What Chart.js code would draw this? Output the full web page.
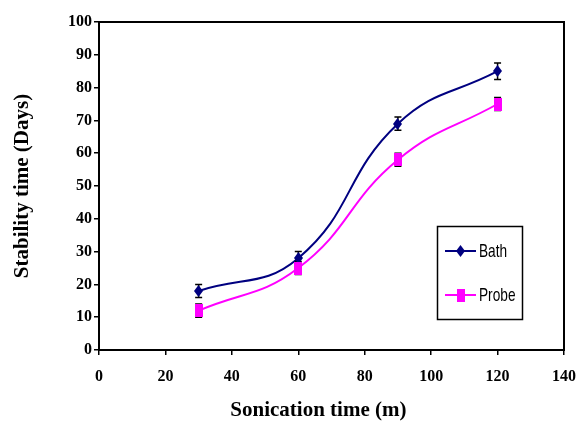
<!DOCTYPE html>
<html>
<head>
<meta charset="utf-8">
<script src="https://cdn.jsdelivr.net/npm/chart.js@4/dist/chart.umd.min.js"></script>
<style>
  html, body { margin: 0; padding: 0; background: #fff; }
  #wrap { width: 580px; height: 423px; position: relative; }
</style>
</head>
<body>
<div id="wrap"><canvas id="chart"></canvas></div>
<script>
// values
const minutes = [30, 60, 90, 120]
const bathDays = [18, 28, 69, 85]
const probeDays = [12, 25, 58, 75]
const bathErr = [2, 2, 2, 2.5]
const probeErr = [2, 2, 2, 2]
const seriesNames = ['Bath', 'Probe']

const NAVY = '#000080'
const MAGENTA = '#FF00FF'
const serif = '"Liberation Serif", "Times New Roman", serif'

// markers in the picture are a bit taller than wide
function makeMarker(kind, color) {
  const c = document.createElement('canvas')
  const ctx = c.getContext('2d')
  if (kind === 'diamond') {
    c.width = 9; c.height = 12
    ctx.fillStyle = color
    ctx.beginPath()
    ctx.moveTo(4.5, 0); ctx.lineTo(9, 6); ctx.lineTo(4.5, 12); ctx.lineTo(0, 6)
    ctx.closePath(); ctx.fill()
  } else {
    c.width = 8; c.height = 13
    ctx.fillStyle = color
    ctx.fillRect(0, 0, 8, 13)
  }
  return c
}
const bathMarker = makeMarker('diamond', NAVY)
const probeMarker = makeMarker('square', MAGENTA)

const toPoints = (xs, ys) => xs.map((x, i) => ({ x: x, y: ys[i] }))

// black error bars with caps, markers drawn again on top
const errorBars = {
  id: 'errorBars',
  afterDatasetsDraw(chart) {
    const { ctx, scales } = chart
    const errs = [bathErr, probeErr]
    ctx.save()
    ctx.strokeStyle = '#000'
    ctx.lineWidth = 1.5
    chart.data.datasets.forEach((ds, d) => {
      ds.data.forEach((p, i) => {
        const x = scales.x.getPixelForValue(p.x)
        const yHi = scales.y.getPixelForValue(p.y + errs[d][i])
        const yLo = scales.y.getPixelForValue(p.y - errs[d][i])
        ctx.beginPath()
        ctx.moveTo(x, yHi); ctx.lineTo(x, yLo)
        ctx.moveTo(x - 3.5, yHi); ctx.lineTo(x + 3.5, yHi)
        ctx.moveTo(x - 3.5, yLo); ctx.lineTo(x + 3.5, yLo)
        ctx.stroke()
      })
    })
    chart.data.datasets.forEach((ds, d) => {
      const img = d === 0 ? bathMarker : probeMarker
      ds.data.forEach(p => {
        const x = scales.x.getPixelForValue(p.x)
        const y = scales.y.getPixelForValue(p.y)
        ctx.drawImage(img, Math.round(x - img.width / 2), Math.round(y - img.height / 2))
      })
    })
    ctx.restore()
  }
}

// box round the plot plus the boxed legend
const frameAndLegend = {
  id: 'frameAndLegend',
  afterDraw(chart) {
    const { ctx, chartArea } = chart
    ctx.save()
    ctx.strokeStyle = '#000'
    ctx.lineWidth = 2
    ctx.strokeRect(chartArea.left, chartArea.top, chartArea.right - chartArea.left, chartArea.bottom - chartArea.top)

    ctx.lineWidth = 1.5
    ctx.strokeRect(437.5, 226.5, 85, 93)
    const rows = [
      { y: 251, color: NAVY, img: bathMarker },
      { y: 295, color: MAGENTA, img: probeMarker }
    ]
    rows.forEach((r, i) => {
      ctx.strokeStyle = r.color
      ctx.lineWidth = 2
      ctx.beginPath(); ctx.moveTo(445, r.y); ctx.lineTo(476, r.y); ctx.stroke()
      ctx.drawImage(r.img, Math.round(460.5 - r.img.width / 2), Math.round(r.y - r.img.height / 2))
      // narrow, tall legend text like the original
      ctx.save()
      ctx.translate(479, r.y + 1)
      ctx.scale(0.72, 1)
      ctx.font = '19px "Liberation Sans", Arial, sans-serif'
      ctx.textBaseline = 'middle'
      ctx.fillStyle = '#000'
      ctx.fillText(seriesNames[i], 0, 0)
      ctx.restore()
    })
    ctx.restore()
  }
}

new Chart(document.getElementById('chart'), {
  type: 'line',
  data: {
    datasets: [
      {
        label: seriesNames[0],
        data: toPoints(minutes, bathDays),
        borderColor: NAVY,
        backgroundColor: NAVY,
        borderWidth: 2,
        tension: 0.45,
        pointRadius: 0,
        fill: false
      },
      {
        label: seriesNames[1],
        data: toPoints(minutes, probeDays),
        borderColor: MAGENTA,
        backgroundColor: MAGENTA,
        borderWidth: 2,
        tension: 0.45,
        pointRadius: 0,
        fill: false
      }
    ]
  },
  options: {
    responsive: true,
    maintainAspectRatio: false,
    animation: false,
    layout: { padding: { left: 10, right: 8, top: 22, bottom: 0 } },
    plugins: {
      legend: { display: false },
      tooltip: { enabled: false }
    },
    scales: {
      x: {
        type: 'linear',
        min: 0,
        max: 140,
        afterFit(scale) {
          scale.height = 73
          scale.paddingRight = 16
          scale.paddingLeft = 0
        },
        ticks: {
          stepSize: 20,
          color: '#000',
          padding: 12,
          maxRotation: 0,
          font: { family: serif, size: 16, weight: 'bold' }
        },
        grid: { drawOnChartArea: false, drawTicks: true, tickLength: 5, color: '#000', lineWidth: 1.5 },
        border: { display: true, color: '#000', width: 2 },
        title: {
          display: true,
          // trailing spaces nudge the centred title a little left, as in the original
          text: 'Sonication time (m)\u00a0\u00a0\u00a0\u00a0\u00a0',
          color: '#000',
          padding: 0,
          font: { family: serif, size: 21, weight: 'bold' }
        }
      },
      y: {
        min: 0,
        max: 100,
        afterFit(scale) { scale.width = 89 },
        ticks: {
          stepSize: 10,
          color: '#000',
          padding: 2,
          font: { family: serif, size: 16, weight: 'bold' }
        },
        grid: { drawOnChartArea: false, drawTicks: true, tickLength: 5, color: '#000', lineWidth: 1.5 },
        border: { display: true, color: '#000', width: 2 },
        title: {
          display: true,
          text: 'Stability time (Days)',
          color: '#000',
          padding: 0,
          font: { family: serif, size: 21, weight: 'bold' }
        }
      }
    }
  },
  plugins: [errorBars, frameAndLegend]
})
</script>
</body>
</html>
